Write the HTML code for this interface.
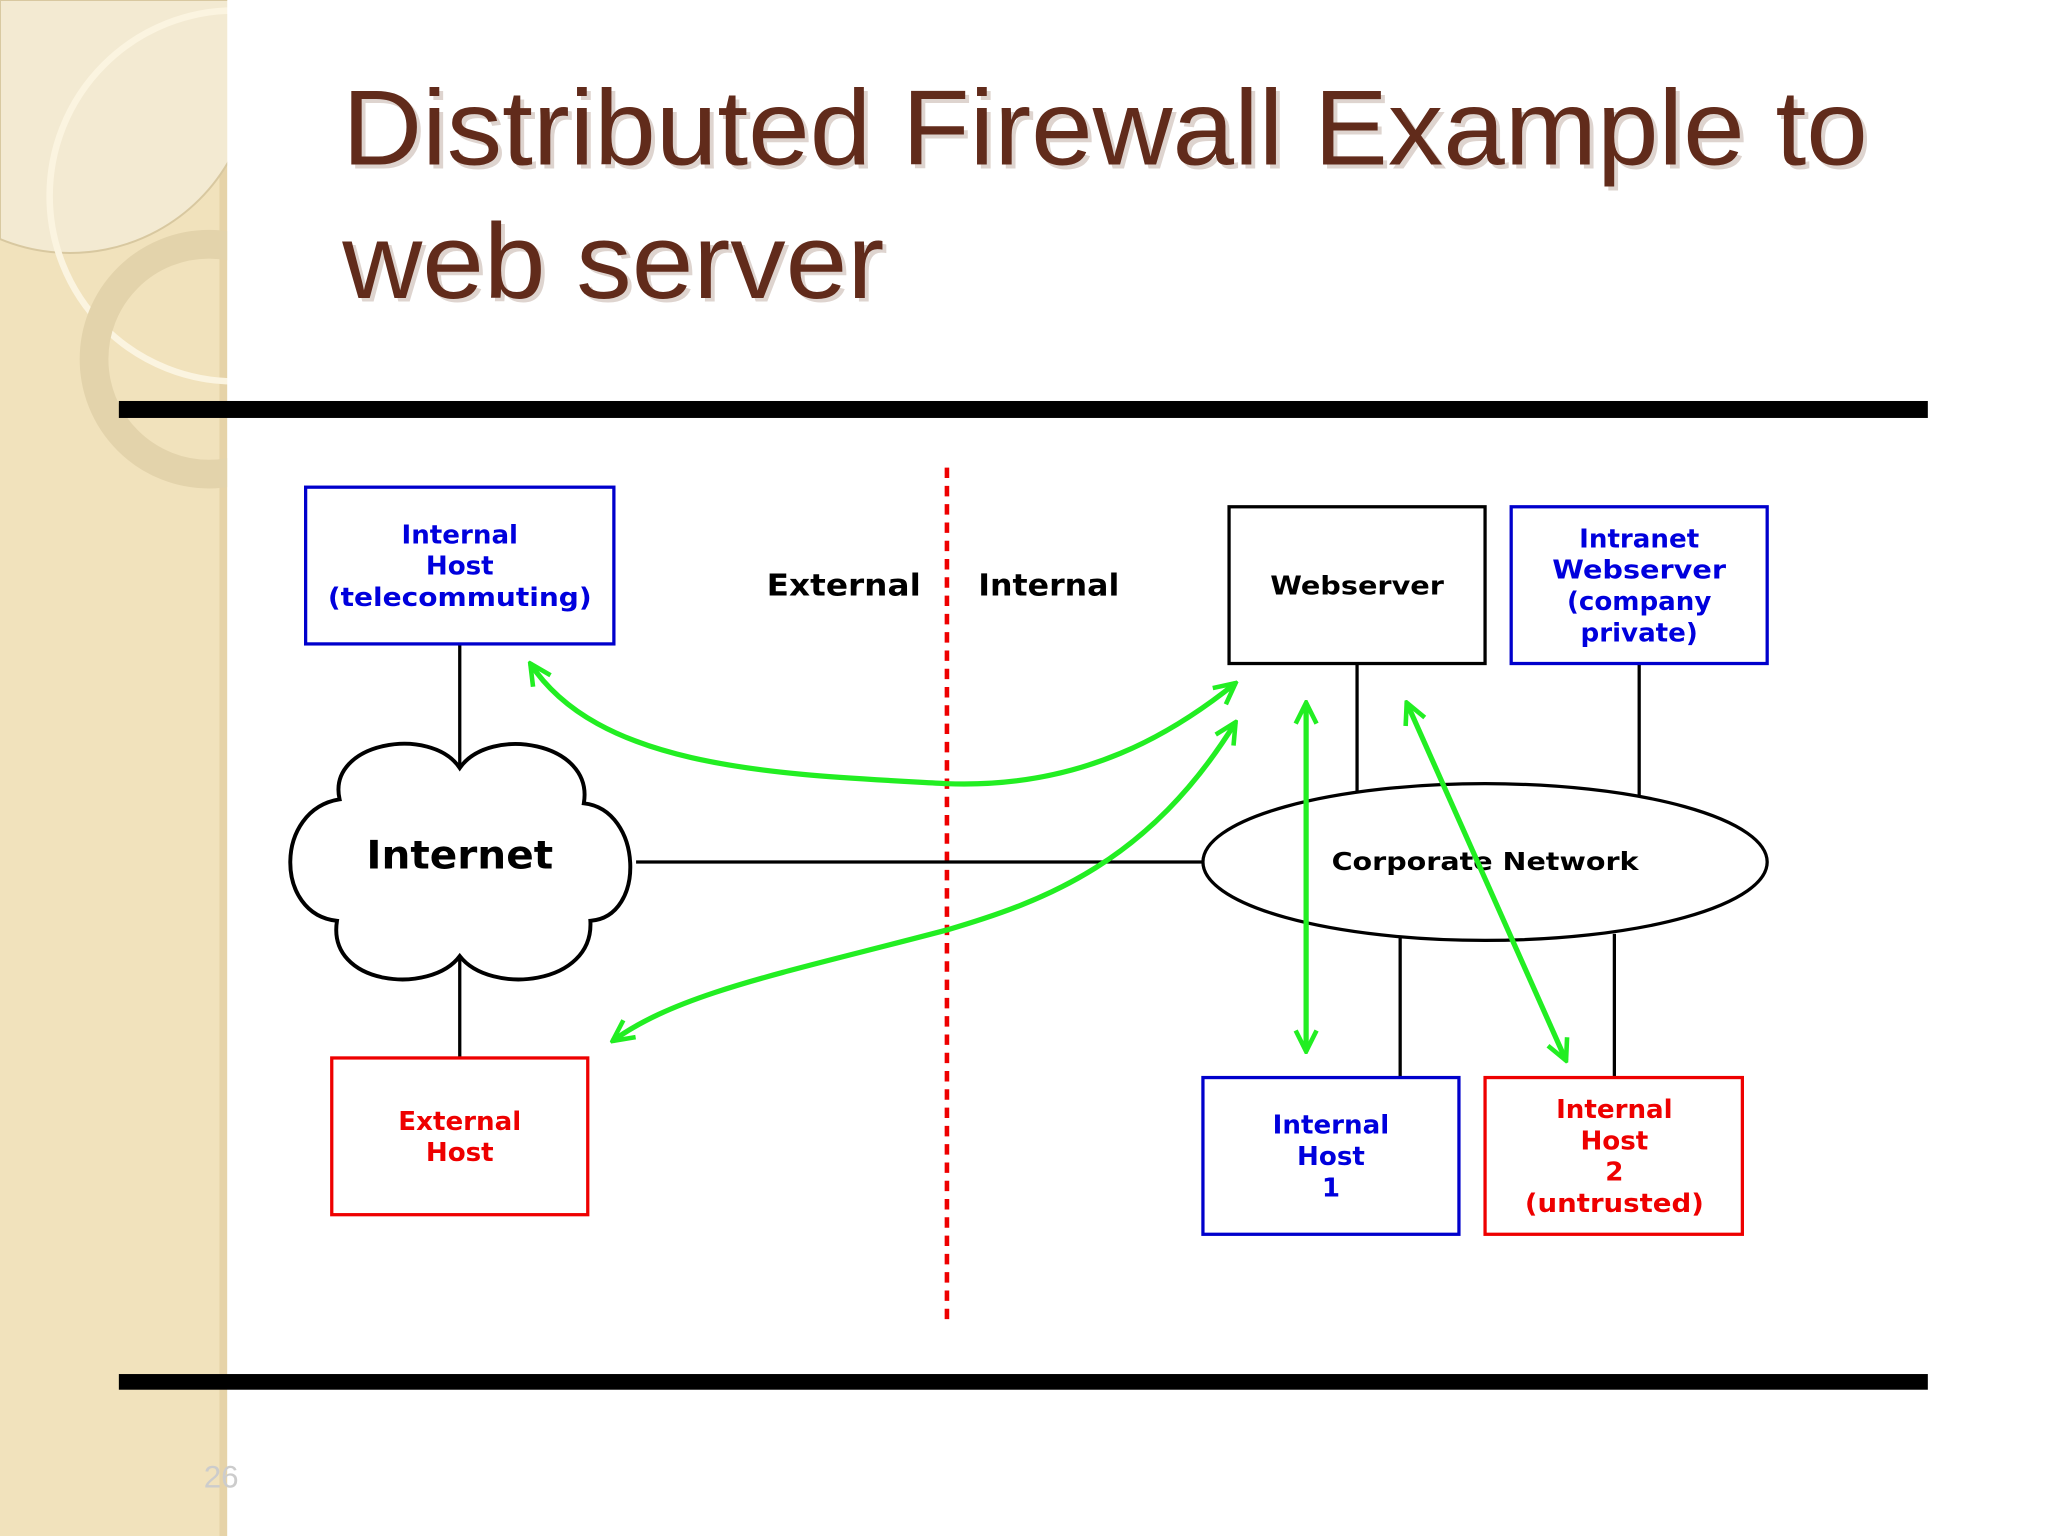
<!DOCTYPE html>
<html><head><meta charset="utf-8"><style>
html,body{margin:0;padding:0;background:#fff;}
svg{display:block;}
text{font-family:"Liberation Sans","DejaVu Sans",sans-serif;}
.d{font-family:"DejaVu Sans","Liberation Sans",sans-serif;}
</style></head><body>
<svg width="2048" height="1536" viewBox="0 0 1568 1176" xmlns="http://www.w3.org/2000/svg">
<defs>
<marker id="ah" viewBox="0 0 20 20" refX="18" refY="10" markerWidth="5" markerHeight="5" orient="auto-start-reverse" markerUnits="strokeWidth">
<path d="M2,2 L18,10 L2,18" fill="none" stroke="#22ee22" stroke-width="3.5"/>
</marker>
</defs>
<rect width="1568" height="1176" fill="#fff"/>
<rect x="0" y="0" width="174" height="1176" fill="#f1e2bc"/>
<rect x="168" y="0" width="6" height="1176" fill="#e6d3a8"/>
<path d="M0,0 H183 V0 A140,140 0 0 1 0,183 Z" fill="#f3ead2" stroke="#d8c8a0" stroke-width="1.5"/>
<circle cx="180" cy="150" r="142" fill="none" stroke="#fbf4e0" stroke-width="5"/>
<circle cx="160" cy="275" r="88" fill="none" stroke="#e3d3ab" stroke-width="22"/>
<rect x="174" y="0" width="1394" height="1176" fill="#fff"/>
<g fill="#612b1b" font-size="82">
<text x="265" y="129" fill="#c9b9b0" opacity=".6" textLength="1168" lengthAdjust="spacingAndGlyphs">Distributed Firewall Example to</text>
<text x="262" y="126" textLength="1168" lengthAdjust="spacingAndGlyphs">Distributed Firewall Example to</text>
<text x="265" y="231" fill="#c9b9b0" opacity=".6" textLength="415" lengthAdjust="spacingAndGlyphs">web server</text>
<text x="262" y="228" textLength="415" lengthAdjust="spacingAndGlyphs">web server</text>
</g>
<rect x="91" y="307" width="1385" height="13" fill="#000"/>
<rect x="91" y="1052" width="1385" height="12" fill="#000"/>
<text x="156" y="1139" font-size="24" fill="#ccc" font-family="Liberation Serif">26</text>
<line x1="725" y1="358" x2="725" y2="1016" stroke="#e00" stroke-width="3.5" stroke-dasharray="8,6"/>
<g stroke="#000" stroke-width="2.5" fill="none">
<line x1="352" y1="493" x2="352" y2="588"/>
<line x1="352" y1="728" x2="352" y2="810"/>
<line x1="487" y1="660" x2="921" y2="660"/>
<line x1="1039" y1="508" x2="1039" y2="606"/>
<line x1="1255" y1="508" x2="1255" y2="609"/>
<line x1="1072" y1="718" x2="1072" y2="825"/>
<line x1="1236" y1="715" x2="1236" y2="825"/>
<ellipse cx="1137" cy="660" rx="216" ry="60" fill="#fff"/>
</g>
<path d="M260,612 C250,568 330,555 352,588 C375,555 455,568 447,615 C492,620 495,702 452,705 C455,755 375,762 352,732 C330,762 250,755 258,705 C210,700 210,620 260,612 Z" fill="#fff" stroke="#000" stroke-width="3"/>
<g stroke-width="2.5" fill="#fff">
<rect x="234" y="373" width="236" height="120" stroke="#0000cc"/>
<rect x="941" y="388" width="196" height="120" stroke="#000"/>
<rect x="1157" y="388" width="196" height="120" stroke="#0000cc"/>
<rect x="254" y="810" width="196" height="120" stroke="#e00"/>
<rect x="921" y="825" width="196" height="120" stroke="#0000cc"/>
<rect x="1137" y="825" width="197" height="120" stroke="#e00"/>
</g>
<g class="d" font-weight="bold" font-size="20" text-anchor="middle">
<g fill="#0000dd"><text class="d" x="352" y="416">Internal</text><text class="d" x="352" y="440">Host</text><text class="d" x="352" y="464" textLength="202" lengthAdjust="spacingAndGlyphs">(telecommuting)</text></g>
<g fill="#000" font-size="23"><text class="d" x="646" y="456" textLength="118" lengthAdjust="spacingAndGlyphs">External</text><text class="d" x="803" y="456" textLength="108" lengthAdjust="spacingAndGlyphs">Internal</text></g>
<text class="d" x="1039" y="455" fill="#000" textLength="133" lengthAdjust="spacingAndGlyphs">Webserver</text>
<g fill="#0000dd"><text class="d" x="1255" y="419">Intranet</text><text class="d" x="1255" y="443" textLength="133" lengthAdjust="spacingAndGlyphs">Webserver</text><text class="d" x="1255" y="467">(company</text><text class="d" x="1255" y="491">private)</text></g>
<text class="d" x="352" y="665" font-size="30" fill="#000" textLength="143" lengthAdjust="spacingAndGlyphs">Internet</text>
<text class="d" x="1137" y="666" fill="#000" font-size="19" textLength="235" lengthAdjust="spacingAndGlyphs">Corporate Network</text>
<g fill="#e00"><text class="d" x="352" y="865">External</text><text class="d" x="352" y="889">Host</text></g>
<g fill="#0000dd"><text class="d" x="1019" y="868">Internal</text><text class="d" x="1019" y="892">Host</text><text class="d" x="1019" y="916">1</text></g>
<g fill="#e00"><text class="d" x="1236" y="856">Internal</text><text class="d" x="1236" y="880">Host</text><text class="d" x="1236" y="904">2</text><text class="d" x="1236" y="928" textLength="137" lengthAdjust="spacingAndGlyphs">(untrusted)</text></g>
</g>
<g stroke="#22ee22" stroke-width="4" fill="none" marker-start="url(#ah)" marker-end="url(#ah)">
<path d="M406,508 C460,590 600,593 725,600 C830,604 900,560 946,523"/>
<path d="M946,553 C880,660 800,690 725,712 C600,745 520,760 469,797"/>
<path d="M1000,538 L1000,805"/>
<path d="M1077,538 L1199,812"/>
</g>
</svg>
</body></html>
